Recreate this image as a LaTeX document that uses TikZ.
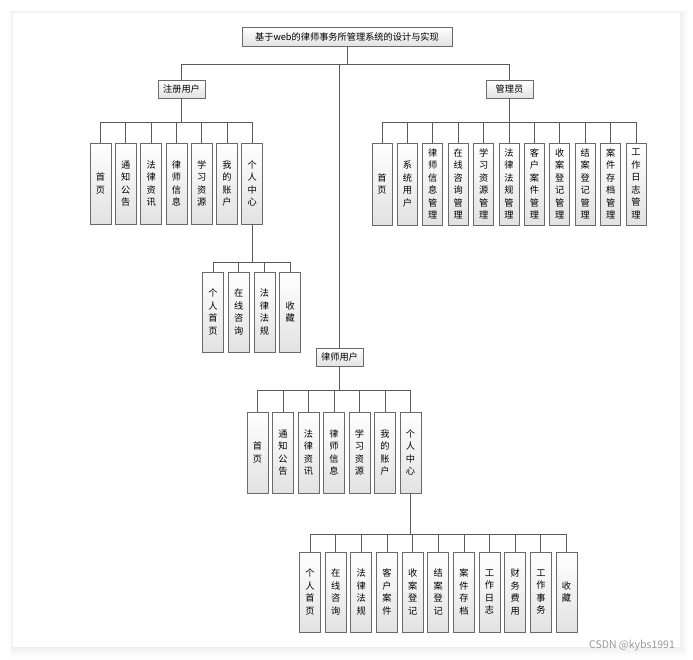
\documentclass[tikz,border=0pt]{standalone}
\usepackage{fontspec}
\newfontfamily\cjk{Noto Sans CJK SC}
\usetikzlibrary{calc}
\definecolor{Edge}{HTML}{5A5A5A}
\definecolor{Frame}{HTML}{6A6A6A}
\definecolor{Fade}{HTML}{E2E2E2}

\begin{document}
\begin{tikzpicture}[x=1pt,y=-1pt,
    box/.style={draw=Frame,line width=.8pt,top color=white,bottom color=Fade,minimum width=21pt,minimum height=81pt,inner sep=0pt,align=center,font=\cjk\fontsize{9.2}{12.5}\selectfont},
    head/.style={box,minimum width=47pt,minimum height=18pt},
    link/.style={draw=Edge,line width=.8pt}]
        \useasboundingbox(0,0)rectangle(693,660);
        \fill[white](0,0)rectangle(693,660);
        % card and its soft shadow
        \foreach \d in {1,...,8}\fill[black,opacity=.008](13-.5*\d,13-.4*\d)rectangle(680+\d,647+1.2*\d);
        \fill[white](13,13)rectangle(680,647);
        % top levels
        \node[head,minimum width=210pt,minimum height=19pt](title)at(347,36.5){基于web的律师事务所管理系统的设计与实现};
        \node[head](reg)at(181.5,89){注册用户};
        \node[head](admin)at(509.5,89){管理员};
        \node[head](lawyer)at(339.5,357){律师用户};
        \foreach \n in {reg,admin,lawyer}\draw[link](title.south)--++(0,18)-|(\n.north);
        % registered user
        \foreach \t[count=\i from 0] in {{首\\页},{通\\知\\公\\告},{法\\律\\资\\讯},{律\\师\\信\\息},{学\\习\\资\\源},{我\\的\\账\\户},{个\\人\\中\\心}}
            \node[box](r\i)at(100.5+25.3*\i,183.5){\t};
        \foreach \i in {0,...,6}\draw[link](reg.south)--++(0,24)-|(r\i.north);
        \foreach \t[count=\i from 0] in {{个\\人\\首\\页},{在\\线\\咨\\询},{法\\律\\法\\规},{收\\藏}}
            \node[box,minimum height=80pt](rp\i)at(213+25.7*\i,312){\t};
        \foreach \i in {0,...,3}\draw[link](r6.south)--++(0,38)-|(rp\i.north);
        % administrator
        \foreach \t[count=\i from 0] in {{首\\页},{系\\统\\用\\户},{律\\师\\信\\息\\管\\理},{在\\线\\咨\\询\\管\\理},{学\\习\\资\\源\\管\\理},{法\\律\\法\\规\\管\\理},{客\\户\\案\\件\\管\\理},{收\\案\\登\\记\\管\\理},{结\\案\\登\\记\\管\\理},{案\\件\\存\\档\\管\\理},{工\\作\\日\\志\\管\\理}}
            \node[box,minimum width=20pt,minimum height=82pt](a\i)at(382+25.4*\i,184){\t};
        \foreach \i in {0,...,10}\draw[link](admin.south)--++(0,24)-|(a\i.north);
        % lawyer
        \foreach \t[count=\i from 0] in {{首\\页},{通\\知\\公\\告},{法\\律\\资\\讯},{律\\师\\信\\息},{学\\习\\资\\源},{我\\的\\账\\户},{个\\人\\中\\心}}
            \node[box](l\i)at(257.5+25.5*\i,452.5){\t};
        \foreach \i in {0,...,6}\draw[link](lawyer.south)--++(0,24)-|(l\i.north);
        \foreach \t[count=\i from 0] in {{个\\人\\首\\页},{在\\线\\咨\\询},{法\\律\\法\\规},{客\\户\\案\\件},{收\\案\\登\\记},{结\\案\\登\\记},{案\\件\\存\\档},{工\\作\\日\\志},{财\\务\\费\\用},{工\\作\\事\\务},{收\\藏}}
            \node[box,minimum height=80pt](lp\i)at(310+25.65*\i,592){\t};
        \foreach \i in {0,...,10}\draw[link](l6.south)--++(0,41)-|(lp\i.north);
        \node[font=\cjk\fontsize{10.5}{10.5}\selectfont,text=black!40](mark)at(632,646){CSDN @kybs1991};
      \end{tikzpicture}
\end{document}
